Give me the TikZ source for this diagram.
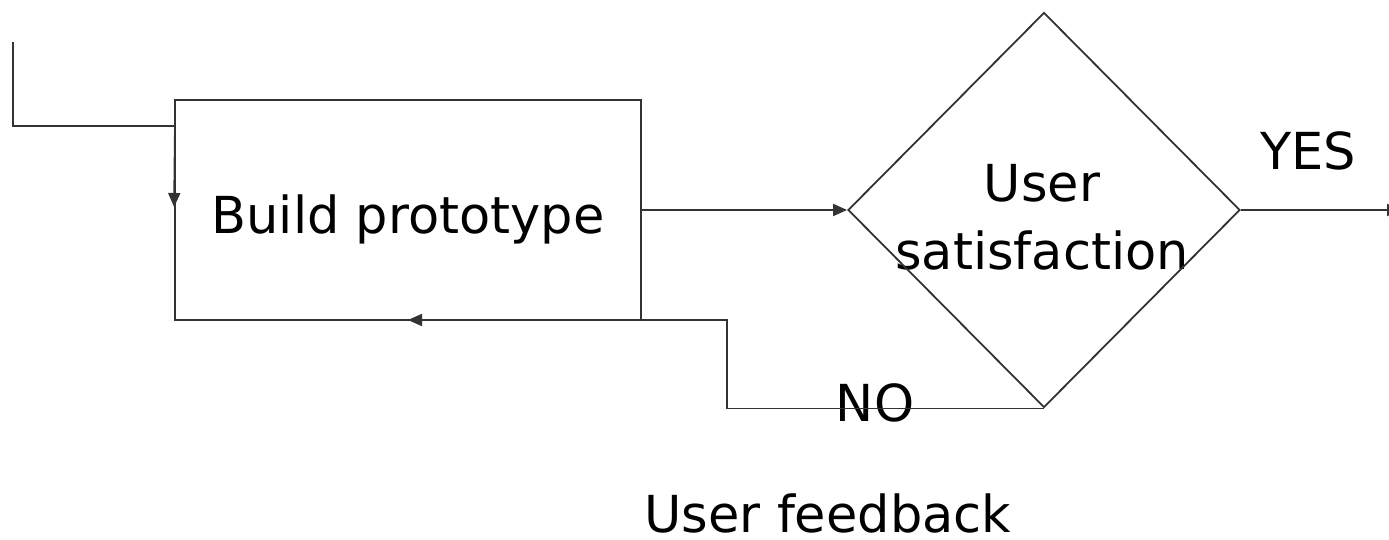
\documentclass[tikz,border=0pt]{standalone}
\usepackage{fontspec}
\setmainfont{DejaVu Sans}
\usetikzlibrary{shapes.geometric,arrows.meta}
\begin{document}
\begin{tikzpicture}[x=1pt,y=-1pt,
  line/.style={draw=black!80,line width=1.8pt},
  tip/.style={-{Triangle[length=14pt,width=12pt]}},
  lbl/.style={font=\fontsize{51}{68}\selectfont,inner sep=0pt,align=center}]
\useasboundingbox (0,0) rectangle (1389,540);
% process box and decision
\node[line,rectangle,minimum width=466pt,minimum height=220pt,inner sep=0pt] (box) at (408,210) {};
\node[lbl] (boxtext) at (408,219) {Build prototype};
\node[lbl] (diatext) at (1042,217) {User\\satisfaction};
\node[line,diamond,minimum width=392pt,minimum height=395pt,inner sep=0pt] (dia) at (1044,210) {};
% labels
\node[lbl] (yes) at (1308,151) {YES};
\node[lbl] (no) at (875,403) {NO};
\node[lbl] (fbtext) at (828,513) {User feedback};
% helper coordinates
\coordinate (start) at (13,42);
\coordinate (entry) at (175,126);
\coordinate (fbcorner) at (727,320);
\coordinate (fbtip) at (408,320);
\coordinate (out) at (1401,210);
% connectors
\draw[line] (start) |- (entry);
\draw[line,tip] (entry) -- (box.west |- 0,207);
\draw[line,tip] (box.east) -- (dia.west);
\draw[line,tip] (dia.east) -- (out);
\draw[line,tip] (dia.south) -| (fbcorner) -- (fbtip);
\end{tikzpicture}
\end{document}
